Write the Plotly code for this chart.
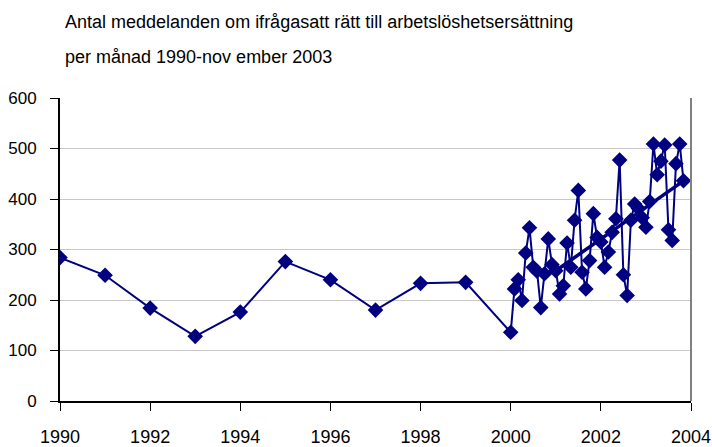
import plotly.graph_objects as go

# Annual values 1990-1999
years = [1990, 1991, 1992, 1993, 1994, 1995, 1996, 1997, 1998, 1999]
annual_values = [284, 249, 184, 128, 176, 276, 240, 180, 233, 235]

# Monthly values Jan 2000 - Nov 2003
monthly_values = [136, 222, 240, 199, 293, 343, 265, 257, 185, 252,
                  321, 270, 258, 212, 228, 313, 265, 358, 417, 255,
                  222, 278, 371, 324, 315, 265, 295, 334, 361, 477,
                  250, 209, 358, 390, 381, 363, 344, 395, 509, 448,
                  475, 507, 339, 318, 470, 509, 436]
monthly_x = [2000 + i / 12 for i in range(len(monthly_values))]

# Trend line (start Jan 2001, end Nov 2003)
trend_x = [2001.0, 2003 + 10 / 12]
trend_y = [258, 436]

x_ticks = [1990, 1992, 1994, 1996, 1998, 2000, 2002, 2004]
y_ticks = [0, 100, 200, 300, 400, 500, 600]

title_line1 = "Antal meddelanden om ifrågasatt rätt till arbetslöshetsersättning"
title_line2 = "per månad 1990-nov ember 2003"

navy = "#000080"
font_family = "Liberation Sans, Arial, sans-serif"

fig = go.Figure()
fig.add_trace(go.Scatter(
    x=years + monthly_x, y=annual_values + monthly_values,
    mode="lines+markers",
    line=dict(color=navy, width=2),
    marker=dict(symbol="diamond", size=12, color=navy),
    showlegend=False, hoverinfo="x+y",
))
fig.add_trace(go.Scatter(
    x=trend_x, y=trend_y, mode="lines",
    line=dict(color=navy, width=3.5),
    showlegend=False, hoverinfo="skip",
))

W, H = 712, 447
m_l, m_r, m_t, m_b = 60, 21, 98, 46
plot_h = H - m_t - m_b
plot_w = W - m_l - m_r

fig.update_layout(
    width=W, height=H,
    margin=dict(l=m_l, r=m_r, t=m_t, b=m_b, autoexpand=False),
    paper_bgcolor="white", plot_bgcolor="white",
    font=dict(family=font_family, size=17, color="black"),
    xaxis=dict(
        range=[1990, 2004], tickvals=x_ticks, ticktext=[str(v) for v in x_ticks],
        showgrid=False, showline=True, linecolor="black", linewidth=2,
        ticks="outside", ticklen=8, tickcolor="black", tickwidth=1,
        zeroline=False, mirror=False, tickfont=dict(size=18),
        automargin=False, ticklabelstandoff=10,
    ),
    yaxis=dict(
        range=[0, 600], tickvals=y_ticks,
        showgrid=True, gridcolor="#c8c8c8", gridwidth=1,
        showline=True, linecolor="black", linewidth=2,
        ticks="outside", ticklen=8, tickcolor="black", tickwidth=1,
        zeroline=False, tickfont=dict(size=17), automargin=False,
        ticklabelstandoff=10,
    ),
    shapes=[dict(type="line", xref="paper", yref="paper", x0=1, x1=1, y0=0, y1=1,
                 line=dict(color="#808080", width=2))],
    annotations=[
        dict(text=title_line1, xref="paper", yref="paper", x=(63 - m_l) / plot_w,
             y=1 + (m_t - 22) / plot_h,
             xanchor="left", yanchor="middle", showarrow=False, font=dict(size=18)),
        dict(text=title_line2, xref="paper", yref="paper", x=(63 - m_l) / plot_w,
             y=1 + (m_t - 57) / plot_h,
             xanchor="left", yanchor="middle", showarrow=False, font=dict(size=18)),
    ],
)

fig.write_html(
    "out.html",
    config={"displayModeBar": False},
    post_script="document.body.style.margin='0';document.body.style.overflow='hidden';",
)
